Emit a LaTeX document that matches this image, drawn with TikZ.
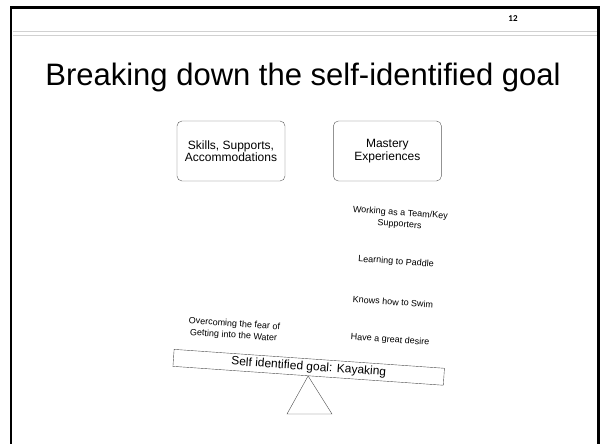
\documentclass[tikz,border=0pt]{standalone}
\usepackage{fontspec}
\setmainfont{Liberation Sans}
\newfontfamily\numfont{Carlito}
\usetikzlibrary{calc, positioning}

\begin{document}
\begin{tikzpicture}[x=1pt, y=-1pt, node distance=48pt, every node/.style={font=\fontsize{9}{11.5}\selectfont}]
  \tikzset{topic/.style={draw=black!65, rounded corners=5pt, minimum width=108pt, minimum height=60pt, align=center, font=\fontsize{12}{12.5}\selectfont},
    item/.style={align=center, rotate=-4, inner sep=1pt},
    plank/.style={draw=black!70, rotate=-4, minimum width=271pt, minimum height=17pt, inner sep=0pt, font=\fontsize{12}{12}\selectfont}}
  \useasboundingbox (0,0) rectangle (600,444);

  % slide frame
  \draw[line width=2.5pt] (11,470) -- (11,7.5) -- (598.5,7.5) -- (598.5,470);
  \draw[black!18, line width=0.8pt] (12.5,31) -- (597,31);
  \draw[black!18, line width=0.8pt] (12.5,35) -- (597,35);
  \node[font=\numfont\bfseries\fontsize{9}{9}\selectfont] (pagenum) at (513,19) {12};

  \node[font=\fontsize{31}{31}\selectfont] (title) at (303,77) {Breaking down the self-identified goal};

  \node[topic] (skills) at (231,151) {Skills, Supports,\\Accommodations};
  \node[topic, right=of skills] (mastery) {Mastery\\Experiences};

  \node[item] (team) at (400,219) {Working as a Team/Key\\Supporters};
  \node[item] (paddle) at (396,262) {Learning to Paddle};
  \node[item] (swim) at (393,302) {Knows how to Swim};
  \node[item] (desire) at (390,340) {Have a great desire};
  \node[item] (fear) at (234,330) {Overcoming the fear of\\Getting into the Water};

  % seesaw
  \node[plank] (goal) at (308.7,367.3) {Self identified goal: Kayaking\hspace{20pt}};
  \coordinate (baseL) at (287,414);
  \coordinate (baseR) at (332,414);
  \draw[black!70] (goal.south) -- (baseL) -- (baseR) -- cycle;
\end{tikzpicture}
\end{document}
